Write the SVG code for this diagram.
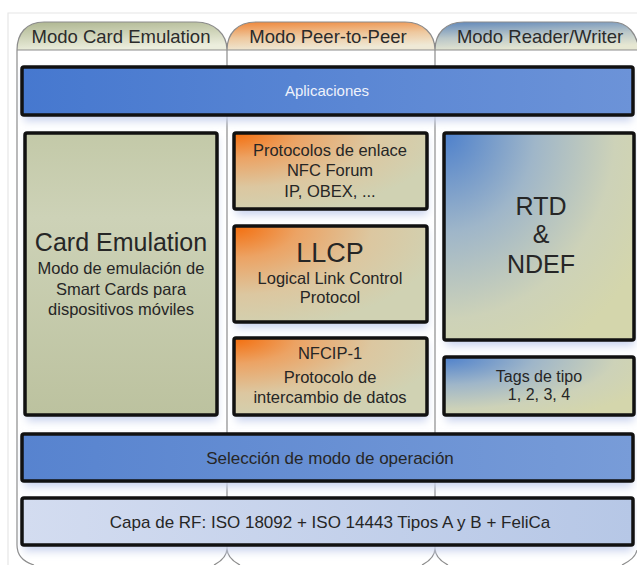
<svg xmlns="http://www.w3.org/2000/svg" width="637" height="565" viewBox="0 0 637 565">
  <defs>
    <style>
      text { font-family: "Liberation Sans", Arial, sans-serif; fill: #262626; text-anchor: middle; }
      .tab-label { font-size: 18.5px; fill: #2b2b2b; }
      .frame { fill: none; stroke: #8c8c8c; stroke-width: 1.2; }
      .box { stroke: #111; stroke-width: 3.5; }
      .title { font-size: 26px; }
      .body { font-size: 16.5px; }
      .bar-label { font-size: 17px; }
      .shadow { fill: #c9d3ee; filter: url(#soft); }
    </style>
    <filter id="soft" x="-10%" y="-20%" width="120%" height="140%">
      <feGaussianBlur stdDeviation="4"/>
    </filter>
    <linearGradient id="tabGreen" x1="0" y1="0" x2="0.25" y2="1">
      <stop offset="0" stop-color="#aeb690"/>
      <stop offset="1" stop-color="#eceedd"/>
    </linearGradient>
    <linearGradient id="tabOrange" x1="0" y1="0" x2="0.25" y2="1">
      <stop offset="0" stop-color="#ef8537"/>
      <stop offset="0.55" stop-color="#eec89e"/>
      <stop offset="1" stop-color="#efe9d6"/>
    </linearGradient>
    <linearGradient id="tabBlue" x1="0" y1="0" x2="0.25" y2="1">
      <stop offset="0" stop-color="#5f87ba"/>
      <stop offset="0.55" stop-color="#b9c6c8"/>
      <stop offset="1" stop-color="#e6e7d2"/>
    </linearGradient>
    <linearGradient id="barBlue" x1="0" y1="0" x2="1" y2="0">
      <stop offset="0" stop-color="#4678cf"/>
      <stop offset="1" stop-color="#6c93d8"/>
    </linearGradient>
    <linearGradient id="barBlueMid" x1="0" y1="0" x2="1" y2="0">
      <stop offset="0" stop-color="#5783cf"/>
      <stop offset="1" stop-color="#789cd8"/>
    </linearGradient>
    <linearGradient id="barPale" x1="0" y1="0" x2="1" y2="0">
      <stop offset="0" stop-color="#d3dcf0"/>
      <stop offset="1" stop-color="#b6c7e6"/>
    </linearGradient>
    <linearGradient id="olive" x1="0" y1="0" x2="0" y2="1">
      <stop offset="0" stop-color="#c3c9a8"/>
      <stop offset="0.3" stop-color="#cdd2b7"/>
      <stop offset="1" stop-color="#bcc29f"/>
    </linearGradient>
    <radialGradient id="orange" cx="0" cy="0" r="1.1">
      <stop offset="0" stop-color="#f46d0c"/>
      <stop offset="0.3" stop-color="#eca364"/>
      <stop offset="0.65" stop-color="#dcc7a0"/>
      <stop offset="1" stop-color="#d0d2b3"/>
    </radialGradient>
    <radialGradient id="blueYellow" cx="0" cy="0" r="1.2">
      <stop offset="0" stop-color="#4d80cc"/>
      <stop offset="0.4" stop-color="#9fb6c9"/>
      <stop offset="0.75" stop-color="#cdd2b8"/>
      <stop offset="1" stop-color="#d4d6ac"/>
    </radialGradient>
  </defs>

  <rect width="637" height="565" fill="#ffffff"/>
  <!-- faint outer border -->
  <path d="M8 565 V13 H637" fill="none" stroke="#e6e6e6" stroke-width="1.2"/>

  <!-- mode columns: folder tabs, bodies and rounded bottoms -->
  <g id="columns">
    <path d="M17 50 C17 34 26 22 44 22 H196 C214 22 227 34 227 50 Z" fill="url(#tabGreen)"/>
    <path d="M227 50 C227 34 237 22 256 22 H405 C423 22 435 34 435 50 Z" fill="url(#tabOrange)"/>
    <path d="M435 50 C435 34 445 22 464 22 H612 C628 22 637 34 639 50 Z" fill="url(#tabBlue)"/>
    <path class="frame" d="M17 50 C17 34 26 22 44 22 H196 C214 22 227 34 227 50 C227 34 237 22 256 22 H405 C423 22 435 34 435 50 C435 34 445 22 464 22 H612 C628 22 637 34 639 50"/>
    <line class="frame" x1="17" y1="50" x2="637" y2="50"/>
    <path class="frame" d="M17 50 V545 C17 556 24 562 34 565"/>
    <path class="frame" d="M227 50 V548 C227 556 222 561 214 565 M227 548 C227 556 232 561 240 565"/>
    <path class="frame" d="M435 50 V548 C435 556 430 561 422 565 M435 548 C435 556 440 561 448 565"/>
    <path class="frame" d="M622 565 C630 561 636 556 637 550"/>
    <text class="tab-label" x="121" y="43">Modo Card Emulation</text>
    <text class="tab-label" x="328" y="43">Modo Peer-to-Peer</text>
    <text class="tab-label" x="540" y="43">Modo Reader/Writer</text>
  </g>

  <!-- soft halos behind the blocks -->
  <g id="halos">
    <rect class="shadow" x="24" y="71" width="608" height="50"/>
    <rect class="shadow" x="27" y="137" width="190" height="284"/>
    <rect class="shadow" x="236" y="137" width="191" height="78"/>
    <rect class="shadow" x="236" y="230" width="191" height="98"/>
    <rect class="shadow" x="236" y="342" width="191" height="79"/>
    <rect class="shadow" x="446" y="137" width="188" height="209"/>
    <rect class="shadow" x="446" y="361" width="188" height="60"/>
    <rect class="shadow" x="24" y="438" width="608" height="49"/>
    <rect class="shadow" x="24" y="502" width="608" height="49"/>
  </g>

  <g id="aplicaciones">
    <rect class="box" x="22" y="67" width="611" height="48" rx="2" fill="url(#barBlue)"/>
    <text x="327" y="96" style="font-size:15px; fill:#eef2fb">Aplicaciones</text>
  </g>

  <g id="card-emulation">
    <rect class="box" x="25" y="133" width="192" height="282" rx="2" fill="url(#olive)"/>
    <text class="title" x="121" y="251" style="font-size:25px">Card Emulation</text>
    <text class="body" x="121" y="274">Modo de emulación de</text>
    <text class="body" x="121" y="295">Smart Cards para</text>
    <text class="body" x="121" y="315">dispositivos móviles</text>
  </g>

  <g id="protocolos-enlace">
    <rect class="box" x="234" y="133" width="193" height="76" rx="2" fill="url(#orange)"/>
    <text class="body" x="330" y="156">Protocolos de enlace</text>
    <text class="body" x="330" y="176">NFC Forum</text>
    <text class="body" x="330" y="197">IP, OBEX, ...</text>
  </g>

  <g id="llcp">
    <rect class="box" x="234" y="226" width="193" height="96" rx="2" fill="url(#orange)"/>
    <text class="title" x="330" y="262" style="font-size:27px">LLCP</text>
    <text class="body" x="330" y="284">Logical Link Control</text>
    <text class="body" x="330" y="303">Protocol</text>
  </g>

  <g id="nfcip-1">
    <rect class="box" x="234" y="338" width="193" height="77" rx="2" fill="url(#orange)"/>
    <text class="body" x="330" y="359">NFCIP-1</text>
    <text class="body" x="330" y="383">Protocolo de</text>
    <text class="body" x="330" y="403">intercambio de datos</text>
  </g>

  <g id="rtd-ndef">
    <rect class="box" x="444" y="133" width="190" height="207" rx="2" fill="url(#blueYellow)"/>
    <text class="title" x="541" y="215" style="font-size:25px">RTD</text>
    <text class="title" x="541" y="243" style="font-size:25px">&amp;</text>
    <text class="title" x="541" y="273" style="font-size:25px">NDEF</text>
  </g>

  <g id="tags">
    <rect class="box" x="444" y="357" width="190" height="58" rx="2" fill="url(#blueYellow)"/>
    <text class="body" x="539" y="382" style="font-size:16px">Tags de tipo</text>
    <text class="body" x="539" y="400" style="font-size:16px">1, 2, 3, 4</text>
  </g>

  <g id="seleccion">
    <rect class="box" x="22" y="434" width="611" height="47" rx="2" fill="url(#barBlueMid)"/>
    <text class="bar-label" x="330" y="464">Selección de modo de operación</text>
  </g>

  <g id="capa-rf">
    <rect class="box" x="22" y="498" width="611" height="47" rx="2" fill="url(#barPale)"/>
    <text class="bar-label" x="330" y="528">Capa de RF: ISO 18092 + ISO 14443 Tipos A y B + FeliCa</text>
  </g>

  <!-- no connectors: the blocks are stacked layers -->
  <g id="connectors"/>
</svg>
